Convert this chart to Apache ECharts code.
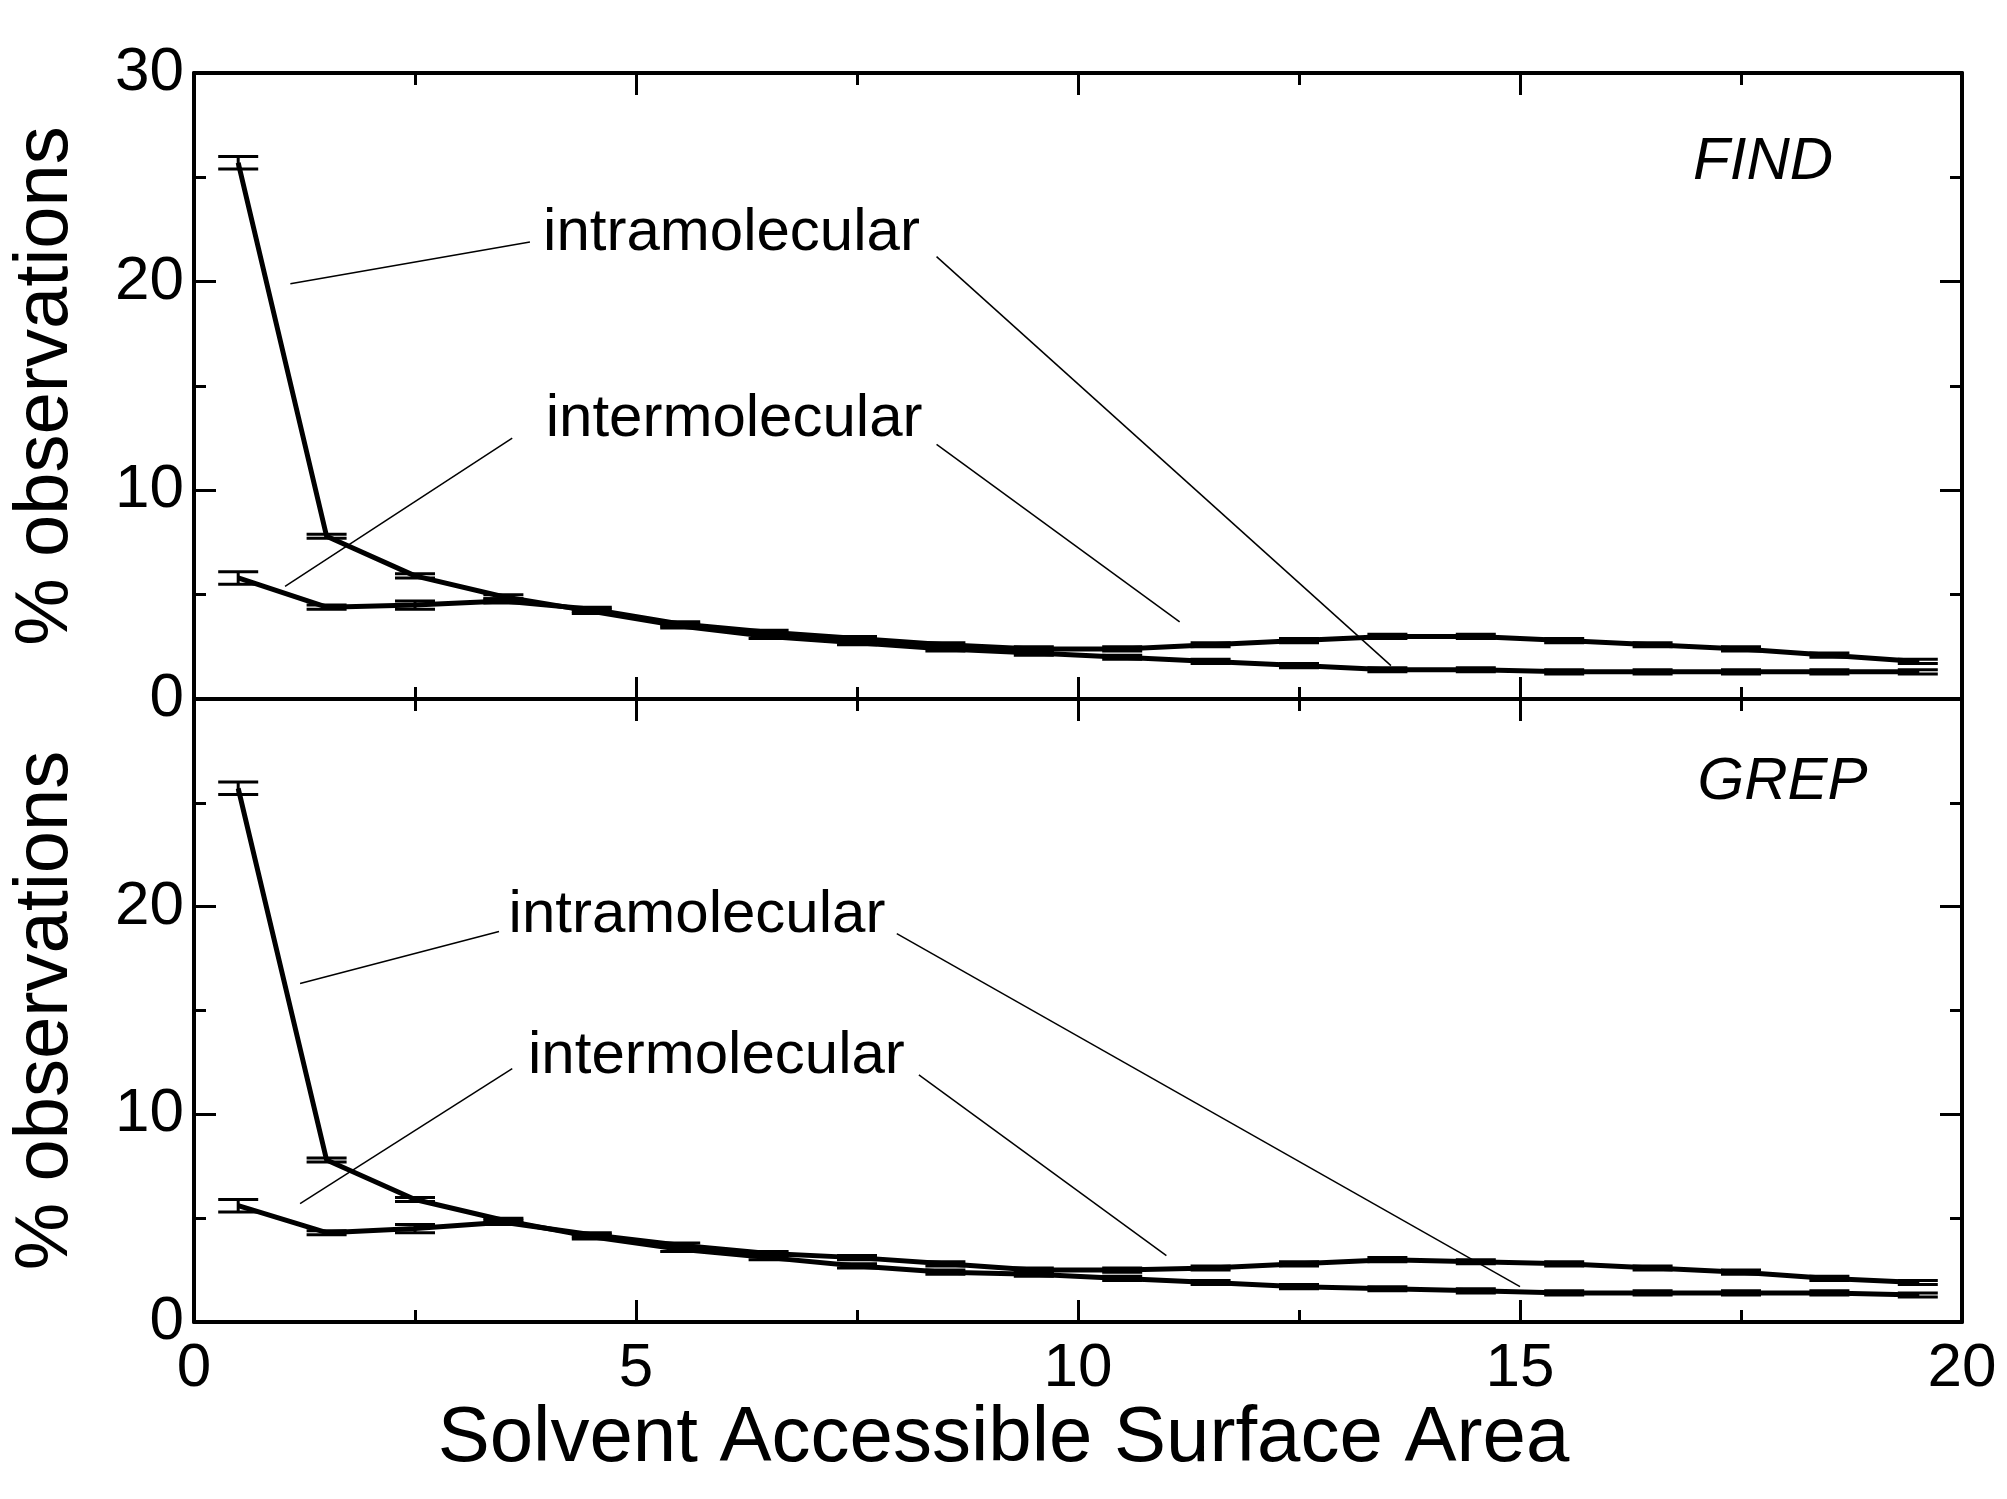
<!DOCTYPE html>
<html><head><meta charset="utf-8">
<script src="https://cdn.jsdelivr.net/npm/echarts@6/dist/echarts.min.js"></script>
<style>html,body{margin:0;background:#fff}#chart{width:2007px;height:1499px}</style>
</head><body><div id="chart"></div>
<script>
// bin centres (SASA)
let xs = [0.5,1.5,2.5,3.5,4.5,5.5,6.5,7.5,8.5,9.5,10.5,11.5,12.5,13.5,14.5,15.5,16.5,17.5,18.5,19.5];
let findIntra = [25.7,7.8,5.9,4.9,4.2,3.5,3.0,2.7,2.4,2.2,2.0,1.8,1.6,1.4,1.4,1.3,1.3,1.3,1.3,1.3];
let findInter = [5.8,4.4,4.5,4.7,4.3,3.6,3.2,2.9,2.6,2.4,2.4,2.6,2.8,3.0,3.0,2.8,2.6,2.4,2.1,1.8];
let grepIntra = [25.7,7.8,5.9,4.9,4.1,3.5,3.1,2.7,2.4,2.3,2.1,1.9,1.7,1.6,1.5,1.4,1.4,1.4,1.4,1.3];
let grepInter = [5.6,4.3,4.5,4.8,4.2,3.7,3.3,3.1,2.8,2.5,2.5,2.6,2.8,3.0,2.9,2.8,2.6,2.4,2.1,1.9];
let intraErr = [0.3,0.1,0.1,0.1,0.1,0.1,0.1,0.1,0.1,0.1,0.1,0.1,0.1,0.1,0.1,0.1,0.1,0.1,0.1,0.1];
let interErr = [0.3,0.1,0.2,0.1,0.1,0.1,0.1,0.1,0.1,0.1,0.1,0.1,0.1,0.1,0.1,0.1,0.1,0.1,0.1,0.1];

// annotation labels: [x, y, text, italic]
let findLabels = [[6.08, 22.3, 'intramolecular', false], [6.11, 13.4, 'intermolecular', false], [17.75, 25.7, 'FIND', true]];
let grepLabels = [[5.69, 19.6, 'intramolecular', false], [5.91, 12.8, 'intermolecular', false], [17.97, 26.0, 'GREP', true]];
// leader lines: [[x1,y1],[x2,y2]]
let findLeaders = [[[1.09,19.9],[3.8,21.9]], [[8.4,21.2],[13.54,1.6]], [[1.03,5.4],[3.6,12.5]], [[8.4,12.2],[11.15,3.7]]];
let grepLeaders = [[[1.2,16.3],[3.45,18.8]], [[7.95,18.7],[15.0,1.7]], [[1.2,5.7],[3.6,12.2]], [[8.2,11.9],[11.0,3.2]]];

let font = '"Liberation Sans Narrow", "Liberation Sans", sans-serif';

function pairs(v) { return xs.map((x, i) => [x, v[i]]); }

function errBars(v, e, idx) {
    return {
        type: 'custom', xAxisIndex: idx, yAxisIndex: idx, z: 3,
        data: xs.map((x, i) => [x, v[i] - e[i], v[i] + e[i]]),
        renderItem: function (params, api) {
            let lo = api.coord([api.value(0), api.value(1)]);
            let hi = api.coord([api.value(0), api.value(2)]);
            let w = 20;
            let st = { stroke: '#000', lineWidth: 3 };
            return { type: 'group', children: [
                { type: 'line', shape: { x1: lo[0], y1: lo[1], x2: hi[0], y2: hi[1] }, style: st },
                { type: 'line', shape: { x1: lo[0]-w, y1: lo[1], x2: lo[0]+w, y2: lo[1] }, style: st },
                { type: 'line', shape: { x1: hi[0]-w, y1: hi[1], x2: hi[0]+w, y2: hi[1] }, style: st }
            ] };
        }
    };
}

function lineSeries(v, idx) {
    return { type: 'line', xAxisIndex: idx, yAxisIndex: idx, data: pairs(v), showSymbol: false,
        lineStyle: { color: '#000', width: 5 }, z: 4 };
}

function annot(labels, leaders, idx) {
    return {
        type: 'scatter', xAxisIndex: idx, yAxisIndex: idx, symbolSize: 0,
        itemStyle: { opacity: 1 },
        data: labels.map(l => ({ value: [l[0], l[1]], name: l[2],
            label: { fontStyle: l[3] ? 'italic' : 'normal', color: '#000' } })),
        label: { show: true, position: 'inside', formatter: '{b}', color: '#000', fontFamily: font,
            fontSize: 60 },
        markLine: { silent: true, symbol: 'none', label: { show: false },
            lineStyle: { color: '#000', width: 1.5, type: 'solid', opacity: 1 },
            data: leaders.map(p => [{ coord: p[0] }, { coord: p[1] }]) },
        z: 5
    };
}

let chart = echarts.init(document.getElementById('chart'));
let grids = [
    { left: 189, right: 45, top: 73, height: 626 },
    { left: 189, right: 45, top: 699, height: 623 }
];
let axLine = { show: true, onZero: false, lineStyle: { color: '#000', width: 4 } };
function xAx(g, pos, labels) {
    return { type: 'value', gridIndex: g, position: pos, min: 0, max: 20, interval: 5,
        axisLine: axLine, splitLine: { show: false },
        axisTick: { inside: true, length: 22, lineStyle: { color: '#000', width: 3 } },
        minorTick: { show: true, splitNumber: 2, length: 12, lineStyle: { color: '#000', width: 3 } },
        axisLabel: { show: labels, color: '#000', fontFamily: font, fontSize: 62, margin: 16 } };
}
function yAx(g, pos, labels, fmt) {
    return { type: 'value', gridIndex: g, position: pos, min: 0, max: 30, interval: 10,
        axisLine: axLine, splitLine: { show: false },
        axisTick: { inside: true, length: 22, lineStyle: { color: '#000', width: 3 } },
        minorTick: { show: true, splitNumber: 2, length: 12, lineStyle: { color: '#000', width: 3 } },
        axisLabel: { show: labels, color: '#000', fontFamily: font, fontSize: 62, margin: 10, formatter: fmt },
        name: labels ? '% observations' : '', nameLocation: 'middle', nameGap: 110,
        nameTextStyle: { color: '#000', fontFamily: font, fontSize: 76 } };
}
let option = {
    animation: false,
    backgroundColor: '#fff',
    grid: grids,
    xAxis: [
        xAx(0, 'bottom', false), xAx(1, 'bottom', true),
        xAx(0, 'top', false), xAx(1, 'top', false)
    ],
    yAxis: [
        yAx(0, 'left', true), yAx(1, 'left', true, v => v === 30 ? '' : v),
        yAx(0, 'right', false), yAx(1, 'right', false)
    ],
    graphic: [{ type: 'text', left: 'center', top: 1400, x: 73,
        style: { text: 'Solvent Accessible Surface Area', font: '78px ' + font, fill: '#000' } }],
    series: [
        lineSeries(findIntra, 0), lineSeries(findInter, 0),
        lineSeries(grepIntra, 1), lineSeries(grepInter, 1),
        errBars(findIntra, intraErr, 0), errBars(findInter, interErr, 0),
        errBars(grepIntra, intraErr, 1), errBars(grepInter, interErr, 1),
        annot(findLabels, findLeaders, 0), annot(grepLabels, grepLeaders, 1)
    ]
};
chart.setOption(option);
</script></body></html>
